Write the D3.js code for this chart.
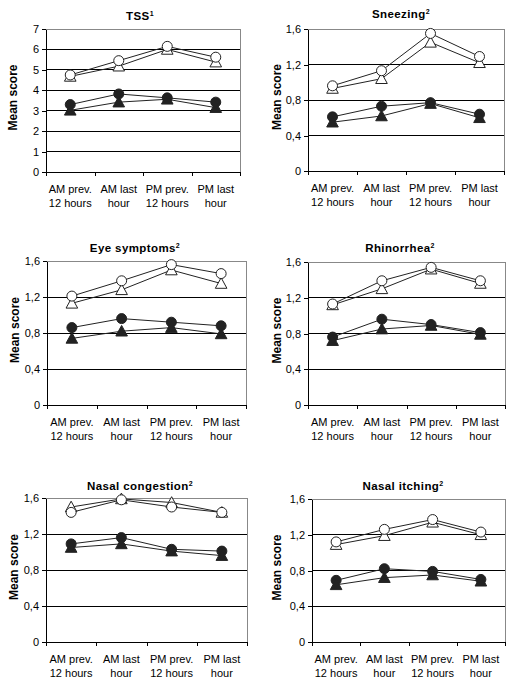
<!DOCTYPE html>
<html>
<head>
<meta charset="utf-8">
<script src="https://cdn.jsdelivr.net/npm/d3@7"></script>
<style>
body { margin: 0; background: #fff; }
svg { display: block; font-family: "Liberation Sans", Arial, sans-serif; }
</style>
</head>
<body>
<svg id="chart" width="513" height="681"></svg>
<script>
// categories on the x axis (two lines each)
const categories = [["AM prev.", "12 hours"], ["AM last", "hour"], ["PM prev.", "12 hours"], ["PM last", "hour"]];

// y tick values
const tssTicks = [0, 1, 2, 3, 4, 5, 6, 7];
const scoreTicks = [0, 0.4, 0.8, 1.2, 1.6];

// TSS
const tssOpenCircle = [4.75, 5.45, 6.15, 5.62];
const tssOpenTriangle = [4.68, 5.18, 6.0, 5.38];
const tssFilledCircle = [3.3, 3.82, 3.63, 3.42];
const tssFilledTriangle = [3.02, 3.42, 3.56, 3.15];

// Sneezing
const snzOpenCircle = [0.96, 1.13, 1.55, 1.29];
const snzOpenTriangle = [0.93, 1.04, 1.45, 1.22];
const snzFilledCircle = [0.61, 0.73, 0.77, 0.64];
const snzFilledTriangle = [0.55, 0.62, 0.76, 0.6];

// Eye symptoms
const eyeOpenCircle = [1.21, 1.38, 1.56, 1.46];
const eyeOpenTriangle = [1.13, 1.28, 1.5, 1.35];
const eyeFilledCircle = [0.86, 0.96, 0.92, 0.88];
const eyeFilledTriangle = [0.74, 0.82, 0.86, 0.79];

// Rhinorrhea
const rhiOpenCircle = [1.13, 1.39, 1.54, 1.39];
const rhiOpenTriangle = [1.12, 1.3, 1.52, 1.36];
const rhiFilledCircle = [0.76, 0.96, 0.9, 0.81];
const rhiFilledTriangle = [0.72, 0.85, 0.89, 0.79];

// Nasal congestion
const conOpenCircle = [1.44, 1.58, 1.5, 1.44];
const conOpenTriangle = [1.5, 1.59, 1.55, 1.44];
const conFilledCircle = [1.09, 1.16, 1.03, 1.01];
const conFilledTriangle = [1.05, 1.09, 1.01, 0.96];

// Nasal itching
const itcOpenCircle = [1.12, 1.26, 1.37, 1.23];
const itcOpenTriangle = [1.09, 1.19, 1.34, 1.2];
const itcFilledCircle = [0.69, 0.82, 0.79, 0.7];
const itcFilledTriangle = [0.64, 0.72, 0.75, 0.68];

const panels = [
    {title: "TSS", sup: "1", ticks: tssTicks, tx: 140, ty: 20, lx: 13,
        box: {left: 46, right: 240, top: 29, bottom: 172},
        series: [tssOpenTriangle, tssOpenCircle, tssFilledCircle, tssFilledTriangle]},
    {title: "Sneezing", sup: "2", ticks: scoreTicks, tx: 401, ty: 18, lx: 277,
        box: {left: 308, right: 504, top: 29, bottom: 171},
        series: [snzOpenTriangle, snzOpenCircle, snzFilledCircle, snzFilledTriangle]},
    {title: "Eye symptoms", sup: "2", ticks: scoreTicks, tx: 135, ty: 252, lx: 15,
        box: {left: 47, right: 246, top: 261, bottom: 405},
        series: [eyeOpenTriangle, eyeOpenCircle, eyeFilledCircle, eyeFilledTriangle]},
    {title: "Rhinorrhea", sup: "2", ticks: scoreTicks, tx: 400, ty: 252, lx: 277,
        box: {left: 308, right: 505, top: 262, bottom: 405},
        series: [rhiOpenTriangle, rhiOpenCircle, rhiFilledCircle, rhiFilledTriangle]},
    {title: "Nasal congestion", sup: "2", ticks: scoreTicks, tx: 140, ty: 490, lx: 14,
        box: {left: 46, right: 247, top: 498, bottom: 642},
        series: [conOpenTriangle, conOpenCircle, conFilledCircle, conFilledTriangle]},
    {title: "Nasal itching", sup: "2", ticks: scoreTicks, tx: 403, ty: 490, lx: 277,
        box: {left: 312, right: 505, top: 499, bottom: 642},
        series: [itcOpenTriangle, itcOpenCircle, itcFilledCircle, itcFilledTriangle]}
];

// marker style per series slot, same order as panel.series
const markers = [
    {shape: 'triangle', fill: '#fff'},
    {shape: 'circle', fill: '#fff'},
    {shape: 'circle', fill: '#222'},
    {shape: 'triangle', fill: '#222'}
];

const svg = d3.select('#chart');

function triangle(x, y){
    return `M ${x} ${y - 5.8} L ${x + 5.8} ${y + 4.8} L ${x - 5.8} ${y + 4.8} Z`;
}

panels.forEach(p => {
    let b = p.box;
    let g = svg.append('g');
    let x = d3.scaleLinear().domain([0, categories.length]).range([b.left, b.right]);
    let y = d3.scaleLinear().domain([0, d3.max(p.ticks)]).range([b.bottom, b.top]);
    let fmt = v => String(v).replace('.', ',');

    // gridlines
    g.selectAll('line.grid')
        .data(p.ticks.filter(t => t > 0 && t < d3.max(p.ticks)))
        .enter().append('line')
        .attr('x1', b.left).attr('x2', b.right)
        .attr('y1', d => y(d)).attr('y2', d => y(d))
        .attr('stroke', '#000').attr('stroke-width', 1)
        .attr('shape-rendering', 'crispEdges');

    // grey border top + right
    g.append('path')
        .attr('d', `M ${b.left} ${b.top} L ${b.right} ${b.top} L ${b.right} ${b.bottom}`)
        .attr('fill', 'none').attr('stroke', '#888').attr('stroke-width', 1)
        .attr('shape-rendering', 'crispEdges');

    // y axis
    let ya = g.append('g').attr('transform', `translate(${b.left},0)`)
        .attr('shape-rendering', 'crispEdges')
        .call(d3.axisLeft(y).tickValues(p.ticks).tickFormat(fmt).tickSize(4).tickSizeOuter(0).tickPadding(3));
    ya.select('.domain').attr('stroke', '#000');
    ya.selectAll('text').attr('font-size', 11).attr('fill', '#000')
        .attr('font-family', '"Liberation Sans", Arial, sans-serif');

    // x axis
    let xa = g.append('g').attr('transform', `translate(0,${b.bottom})`)
        .attr('shape-rendering', 'crispEdges')
        .call(d3.axisBottom(x).tickValues(d3.range(categories.length + 1)).tickFormat('').tickSize(4).tickSizeOuter(0));
    xa.select('.domain').attr('stroke', '#000');

    let cx = i => x(i + 0.5);

    g.selectAll('text.cat')
        .data(categories)
        .enter().append('text')
        .attr('class', 'cat')
        .attr('text-anchor', 'middle')
        .attr('font-size', 11)
        .attr('x', (d, i) => cx(i))
        .attr('y', b.bottom + 21)
        .each(function(d){
            let t = d3.select(this);
            t.append('tspan').attr('x', t.attr('x')).text(d[0]);
            t.append('tspan').attr('x', t.attr('x')).attr('dy', 14).text(d[1]);
        });

    // title
    let title = g.append('text')
        .attr('x', p.tx).attr('y', p.ty)
        .attr('text-anchor', 'middle')
        .attr('font-size', 11.5).attr('font-weight', 'bold')
        .attr('letter-spacing', 0.4)
        .text(p.title);
    title.append('tspan').attr('font-size', 7).attr('dy', -4).text(p.sup);

    // y label
    g.append('text')
        .attr('transform', `translate(${p.lx},${(b.top + b.bottom) / 2 - 3}) rotate(-90)`)
        .attr('text-anchor', 'middle')
        .attr('dy', '0.35em')
        .attr('font-size', 12).attr('font-weight', 'bold')
        .text('Mean score');

    // lines
    let line = d3.line().x((d, i) => cx(i)).y(d => y(d));
    g.selectAll('path.series')
        .data(p.series)
        .enter().append('path')
        .attr('class', 'series')
        .attr('d', line)
        .attr('fill', 'none').attr('stroke', '#222').attr('stroke-width', 1);

    // markers
    p.series.forEach((s, k) => {
        let m = markers[k];
        let mg = g.append('g');
        if(m.shape === 'circle'){
            mg.selectAll('circle')
                .data(s)
                .enter().append('circle')
                .attr('cx', (d, i) => cx(i)).attr('cy', d => y(d))
                .attr('r', 5)
                .attr('fill', m.fill).attr('stroke', '#222').attr('stroke-width', 1);
        }else{
            mg.selectAll('path')
                .data(s)
                .enter().append('path')
                .attr('d', (d, i) => triangle(cx(i), y(d)))
                .attr('fill', m.fill).attr('stroke', '#222').attr('stroke-width', 1);
        }
    });
});
</script>
</body>
</html>
